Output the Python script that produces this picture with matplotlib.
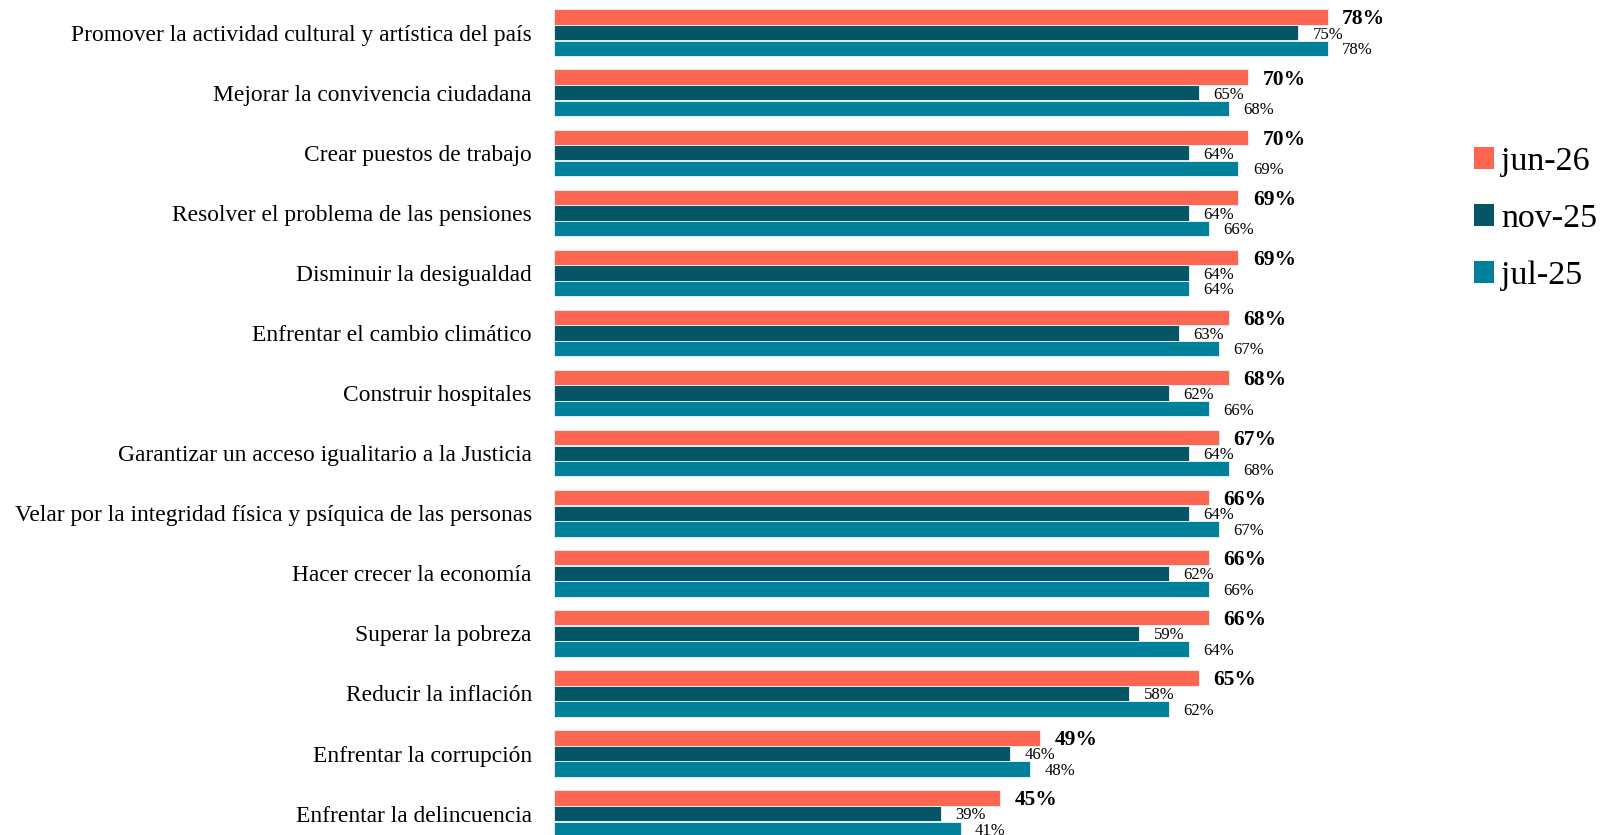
import numpy as np
import matplotlib
matplotlib.use("Agg")
from matplotlib import pyplot as plt
from matplotlib.patches import Patch

categories = [
    "Promover la actividad cultural y artística del país",
    "Mejorar la convivencia ciudadana",
    "Crear puestos de trabajo",
    "Resolver el problema de las pensiones",
    "Disminuir la desigualdad",
    "Enfrentar el cambio climático",
    "Construir hospitales",
    "Garantizar un acceso igualitario a la Justicia",
    "Velar por la integridad física y psíquica de las personas",
    "Hacer crecer la economía",
    "Superar la pobreza",
    "Reducir la inflación",
    "Enfrentar la corrupción",
    "Enfrentar la delincuencia",
]
jun26 = [78, 70, 70, 69, 69, 68, 68, 67, 66, 66, 66, 65, 49, 45]
nov25 = [75, 65, 64, 64, 64, 63, 62, 64, 64, 62, 59, 58, 46, 39]
jul25 = [78, 68, 69, 66, 64, 67, 66, 68, 67, 66, 64, 62, 48, 41]
series_names = ["jun-26", "nov-25", "jul-25"]
colors = ["#FF6651", "#045667", "#00819B"]

plt.rcParams['font.family'] = ['Liberation Serif', 'DejaVu Serif']

W, H, dpi = 1601, 835, 100
fig = plt.figure(figsize=(W / dpi, H / dpi), dpi=dpi)
x0 = 554
px_per = 9.92
right = 1430
ax = fig.add_axes([x0 / W, 0, (right - x0) / W, 1])
ax.set_xlim(0, (right - x0) / px_per)
gap = 60.07
ax.set_ylim((H - 32.7) / gap, -32.7 / gap)

y = np.arange(len(categories))
h = 0.255
step = 0.26
all_vals = [jun26, nov25, jul25]
for k, (vals, c) in enumerate(zip(all_vals, colors)):
    pos = y + (k - 1) * step
    ax.barh(pos, vals, height=h, color=c, edgecolor="#dfeef0", linewidth=0.7,
            label=series_names[k])
    for p, v in zip(pos, vals):
        if k == 0:
            ax.text(v + 1.45, p + 0.04, f"{v}%", va="center", ha="left",
                    fontsize=15.5, fontweight="bold", clip_on=False)
        else:
            ax.text(v + 1.45, p + 0.03, f"{v}%", va="center", ha="left",
                    fontsize=12, clip_on=False)

ax.set_yticks(y)
ax.set_yticklabels(categories, fontsize=16.9)
ax.tick_params(axis="y", length=0, pad=16)
ax.set_xticks([])
for s in ax.spines.values():
    s.set_visible(False)

handles = [Patch(facecolor=c, edgecolor="none") for c in colors]
fig.legend(handles, series_names, loc="upper left",
           bbox_to_anchor=(1443 / W, 1 - 116 / H), frameon=False,
           fontsize=24.5, handlelength=0.6, handleheight=0.6,
           handletextpad=0.2, labelspacing=0.78)

fig.savefig("out.png", dpi=dpi)
